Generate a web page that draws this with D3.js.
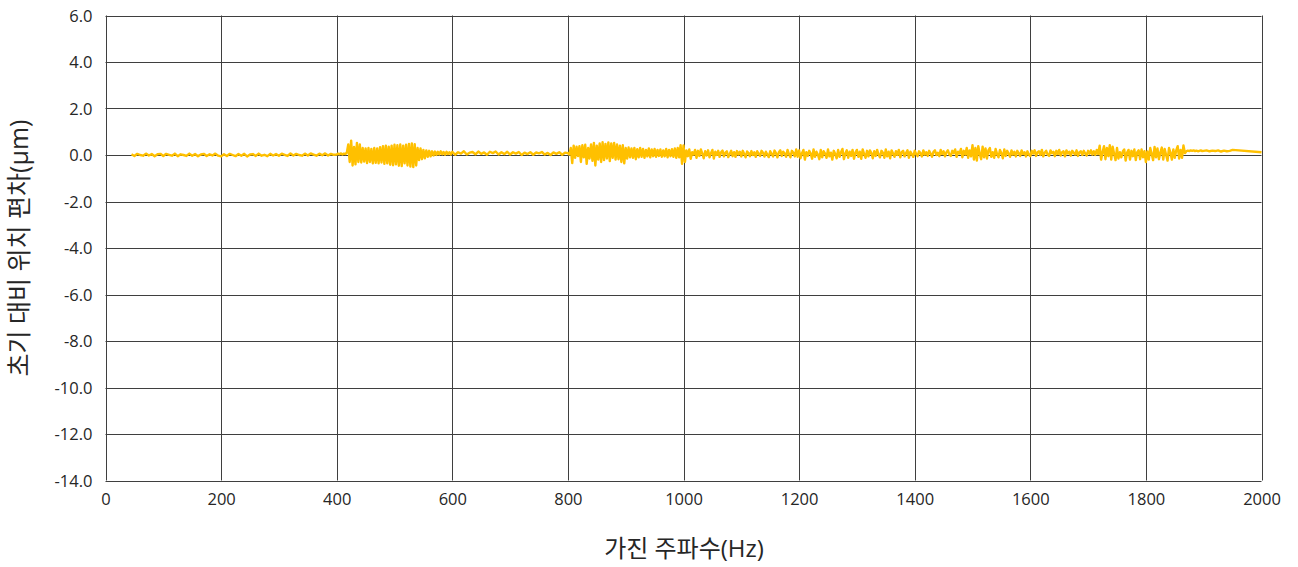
<!DOCTYPE html>
<html>
<head>
<meta charset="utf-8">
<script src="https://cdn.jsdelivr.net/npm/d3@7"></script>
<style>
  html, body { margin: 0; padding: 0; background: #ffffff; }
  svg { display: block; }
  text { font-family: "Open Sans", "Noto Sans CJK KR", sans-serif; fill: #262626; }
</style>
</head>
<body>
<svg id="chart" width="1298" height="567"></svg>
<script>
// Axis ticks
const xTicks = [0, 200, 400, 600, 800, 1000, 1200, 1400, 1600, 1800, 2000];
const yTicks = [6, 4, 2, 0, -2, -4, -6, -8, -10, -12, -14];

// Sweep deviation (μm); each block lists values from its start frequency at a fixed step
const dev0045 = [0.03, -0.04, 0.05, 0.00, -0.03, 0.06, -0.02, 0.04, -0.05, 0.03, 0.05];
const dev0100 = [-0.04, 0.05, 0.01, -0.03, 0.06, -0.05, 0.03, 0.00, -0.04, 0.06, -0.03, 0.04, -0.05, 0.02, 0.05, -0.04, 0.03, -0.02, 0.06, -0.03];
const dev0200 = [-0.06, 0.03, -0.04, 0.05, 0.00, -0.05, 0.04, -0.03, 0.05, -0.06, 0.02, 0.04, -0.04, 0.06, -0.03, 0.01, -0.05, 0.05, -0.02, 0.04];
const dev0300 = [-0.03, 0.06, 0.01, -0.04, 0.07, -0.02, 0.05, 0.00, -0.03, 0.06, -0.02, 0.07, 0.02, -0.03, 0.06, -0.01, 0.07, -0.02, 0.05, 0.01];
const dev0400 = [0.02, 0.06, 0.03, 0.07, 0.02, 0.06, 0.04, 0.10,
                 0.45, -0.30, 0.62, -0.45, 0.35, -0.40, 0.52, -0.30,
                 0.45, -0.32, 0.30, -0.28, 0.28, -0.35, 0.30, -0.30,
                 0.26, -0.36, 0.30, -0.34, 0.28, -0.36, 0.34, -0.32,
                 0.38, -0.38, 0.40, -0.36, 0.36, -0.42, 0.40, -0.44];
const dev0500 = [0.44, -0.40, 0.42, -0.46, 0.45, -0.48, 0.40, -0.36,
                 0.44, -0.45, 0.48, -0.50, 0.50, -0.52, 0.46, -0.45,
                 0.30, -0.22, 0.28, -0.18, 0.22, -0.14, 0.20, -0.08,
                 0.18, -0.06, 0.16, -0.02, 0.15, 0.00, 0.14, 0.02,
                 0.16, 0.03, 0.13, 0.01, 0.14, 0.04, 0.12, 0.02];
const dev0600 = [0.14, 0.01, 0.12, 0.06, 0.16, 0.02, 0.10, 0.13, 0.03, 0.15, 0.05, 0.11, 0.01, 0.14, 0.08, 0.15, 0.02, 0.12, 0.04, 0.14];
const dev0700 = [0.02, 0.12, 0.06, 0.13, 0.00, 0.10, 0.04, 0.12, 0.01, 0.11, 0.07, 0.13, 0.02, 0.09, 0.00, 0.11, 0.05, 0.12, 0.01, 0.10];
const dev0800 = [0.08, 0.02, 0.30, -0.35, 0.40, -0.12, 0.36, -0.05,
                 0.38, -0.30, 0.42, -0.10, 0.44, -0.38, 0.30, -0.15,
                 0.45, -0.25, 0.52, -0.45, 0.40, -0.20, 0.50, -0.30,
                 0.55, -0.22, 0.48, -0.15, 0.54, -0.26, 0.50, -0.12,
                 0.52, -0.20, 0.45, -0.18, 0.40, -0.30, 0.42, -0.36];
const dev0900 = [0.30, -0.15, 0.32, -0.10, 0.28, -0.12, 0.30, -0.18,
                 0.25, -0.10, 0.30, -0.08, 0.26, -0.12, 0.22, -0.06,
                 0.28, -0.10, 0.24, -0.05, 0.26, -0.08, 0.22, -0.04,
                 0.24, -0.08, 0.20, -0.06, 0.26, -0.10, 0.22, -0.05,
                 0.25, -0.08, 0.28, -0.12, 0.30, -0.10, 0.42, -0.38];
const dev1000 = [0.41, -0.30, 0.20, -0.05, 0.24, -0.16, 0.12, 0.02, 0.22, -0.12, 0.18, -0.04,
                 0.24, 0.06, -0.14, 0.16, -0.02, 0.20, -0.10, 0.08, 0.22, -0.15, 0.14, 0.00,
                 0.18, -0.08, 0.12, 0.19, -0.06, 0.10, 0.16, -0.09, 0.04, 0.18, -0.05, 0.12,
                 -0.08, 0.17, 0.02, 0.14];
const dev1100 = [-0.06, 0.18, 0.04, -0.10, 0.15, 0.08, -0.05, 0.17, 0.00, 0.12, -0.08, 0.16,
                 0.06, -0.04, 0.18, 0.10, -0.07, 0.14, 0.02, -0.09, 0.16, 0.05, -0.06, 0.19,
                 0.08, -0.10, 0.12, 0.20, -0.04, 0.14, 0.06, -0.08, 0.22, 0.04, -0.10, 0.18,
                 0.10, -0.06, 0.24, -0.08];
const dev1200 = [0.20, -0.14, 0.08, 0.22, -0.20, 0.12, -0.04, 0.18, 0.06, -0.16, 0.24, -0.08,
                 0.14, 0.02, -0.18, 0.22, -0.10, 0.16, 0.06, -0.12, 0.24, -0.06, 0.10, -0.20,
                 0.18, 0.04, -0.14, 0.22, -0.08, 0.12, 0.26, -0.18, 0.06, 0.20, -0.12, 0.14,
                 -0.04, 0.22, -0.16, 0.10];
const dev1300 = [0.22, -0.08, 0.14, -0.16, 0.24, 0.04, -0.12, 0.18, -0.06, 0.20, 0.08, -0.14,
                 0.16, -0.04, 0.22, 0.02, -0.10, 0.18, 0.10, -0.12, 0.24, -0.06, 0.14, -0.14,
                 0.20, 0.06, -0.08, 0.16, 0.00, 0.22, -0.10, 0.12, 0.18, -0.06, 0.08, 0.20,
                 -0.12, 0.14, 0.04, -0.08];
const dev1400 = [0.18, 0.04, -0.05, 0.16, 0.08, -0.06, 0.20, 0.02, 0.12, -0.04, 0.18, 0.06,
                 -0.07, 0.14, 0.20, 0.00, 0.10, -0.05, 0.22, 0.04, 0.16, -0.06, 0.12, 0.20,
                 0.02, -0.04, 0.18, 0.08, 0.24, -0.08, 0.14, 0.06, 0.26, -0.10, 0.18, 0.02,
                 0.30, -0.12, 0.20, -0.06];
const dev1500 = [0.42, -0.20, 0.30, -0.24, 0.38, 0.05, -0.18, 0.36, -0.10, 0.28, -0.15, 0.20,
                 0.30, -0.08, 0.12, -0.12, 0.26, 0.04, -0.10, 0.22, 0.08, -0.14, 0.24, -0.04,
                 0.18, 0.06, -0.08, 0.20, 0.02, 0.14, -0.06, 0.18, 0.08, -0.04, 0.20, 0.04,
                 0.12, -0.06, 0.16, 0.02];
const dev1600 = [-0.05, 0.18, 0.06, 0.20, -0.04, 0.12, 0.16, 0.00, 0.22, -0.06, 0.10, 0.18,
                 0.02, -0.04, 0.20, 0.08, 0.14, -0.05, 0.18, 0.04, 0.22, -0.02, 0.12, 0.16,
                 -0.06, 0.20, 0.06, 0.14, -0.03, 0.18, 0.10, 0.02, 0.20, -0.04, 0.12, 0.16,
                 0.00, 0.18, 0.06, -0.02];
const dev1700 = [0.18, 0.05, 0.20, 0.02, 0.16, 0.00, 0.22, 0.04,
                 0.40, -0.20, 0.12, 0.38, -0.18, 0.30, -0.05, 0.42,
                 -0.20, 0.36, 0.05, -0.22, 0.30, -0.15, 0.12, -0.10,
                 0.15, 0.24, -0.24, 0.10, 0.22, -0.20, 0.18, -0.05,
                 0.24, -0.22, 0.12, 0.20, -0.18, 0.24, -0.10, 0.16];
const dev1800 = [-0.30, 0.15, -0.20, 0.30, 0.05, -0.22, 0.35, -0.10,
                 0.28, -0.18, 0.10, 0.32, -0.20, 0.26, 0.00, -0.24,
                 0.30, 0.10, -0.20, 0.24, -0.12, 0.20, 0.38, -0.15,
                 0.22, -0.12, 0.41, 0.08, 0.16, 0.19, 0.17, 0.20,
                 0.18, 0.20, 0.17, 0.19, 0.16, 0.18, 0.20, 0.17];
const dev1900 = [0.18, 0.20, 0.16, 0.19, 0.17, 0.20, 0.15, 0.19, 0.16, 0.18];
// Last sparse points of the sweep
const tailHz = [1950, 2000];
const tailDev = [0.22, 0.12];

// [start Hz, step Hz, values]
const sweepBlocks = [
  [45, 5, dev0045], [100, 5, dev0100], [200, 5, dev0200], [300, 5, dev0300],
  [400, 2.5, dev0400], [500, 2.5, dev0500], [600, 5, dev0600], [700, 5, dev0700],
  [800, 2.5, dev0800], [900, 2.5, dev0900], [1000, 2.5, dev1000], [1100, 2.5, dev1100],
  [1200, 2.5, dev1200], [1300, 2.5, dev1300], [1400, 2.5, dev1400], [1500, 2.5, dev1500],
  [1600, 2.5, dev1600], [1700, 2.5, dev1700], [1800, 2.5, dev1800], [1900, 5, dev1900]
];

const points = [];
sweepBlocks.forEach(([start, step, vals]) => {
  vals.forEach((v, i) => points.push({ hz: start + i * step, v }));
});
tailHz.forEach((hz, i) => points.push({ hz, v: tailDev[i] }));

// Layout
const svg = d3.select("#chart");
const plot = { left: 105.5, right: 1261.5, top: 15.5, bottom: 480.5 };

const x = d3.scaleLinear().domain([0, 2000]).range([plot.left, plot.right]);
const y = d3.scaleLinear().domain([-14, 6]).range([plot.bottom, plot.top]);

// Gridlines
const grid = svg.append("g").attr("class", "grid");
grid.selectAll("line.h").data(yTicks).join("line")
  .attr("class", "h")
  .attr("x1", plot.left).attr("x2", plot.right)
  .attr("y1", d => Math.round(y(d)) + 0.5).attr("y2", d => Math.round(y(d)) + 0.5)
  .attr("stroke", "#3f3f3f").attr("stroke-width", 1);
grid.selectAll("line.v").data(xTicks).join("line")
  .attr("class", "v")
  .attr("x1", d => Math.round(x(d)) + 0.5).attr("x2", d => Math.round(x(d)) + 0.5)
  .attr("y1", plot.top).attr("y2", plot.bottom)
  .attr("stroke", "#3f3f3f").attr("stroke-width", 1);

// Axes (labels only; lines come from the grid)
const yAxis = d3.axisLeft(y).tickValues(yTicks).tickFormat(d => d.toFixed(1)).tickSize(0).tickPadding(13);
svg.append("g").attr("transform", `translate(${plot.left},0)`).call(yAxis)
  .call(g => g.select(".domain").remove())
  .call(g => g.selectAll("text").attr("font-size", 16.5).attr("dy", "0.36em")
    .style("font-family", '"Open Sans", sans-serif').attr("fill", "#262626"));

const xAxis = d3.axisBottom(x).tickValues(xTicks).tickFormat(d => String(d)).tickSize(0).tickPadding(13);
svg.append("g").attr("transform", `translate(0,${plot.bottom})`).call(xAxis)
  .call(g => g.select(".domain").remove())
  .call(g => g.selectAll("text").attr("font-size", 16.5)
    .style("font-family", '"Open Sans", sans-serif').attr("fill", "#262626"));

// Series
const line = d3.line().x(d => x(d.hz)).y(d => y(d.v));
svg.append("path").datum(points)
  .attr("d", line)
  .attr("fill", "none")
  .attr("stroke", "#ffc000")
  .attr("stroke-width", 2.4)
  .attr("stroke-linejoin", "round");

// Axis titles
svg.append("text")
  .attr("x", 684).attr("y", 557)
  .attr("text-anchor", "middle").attr("font-size", 24)
  .text("가진 주파수(Hz)");

svg.append("text")
  .attr("transform", `translate(28,${(plot.top + plot.bottom) / 2}) rotate(-90)`)
  .attr("text-anchor", "middle").attr("font-size", 25)
  .text("초기 대비 위치 편차(μm)");
</script>
</body>
</html>
